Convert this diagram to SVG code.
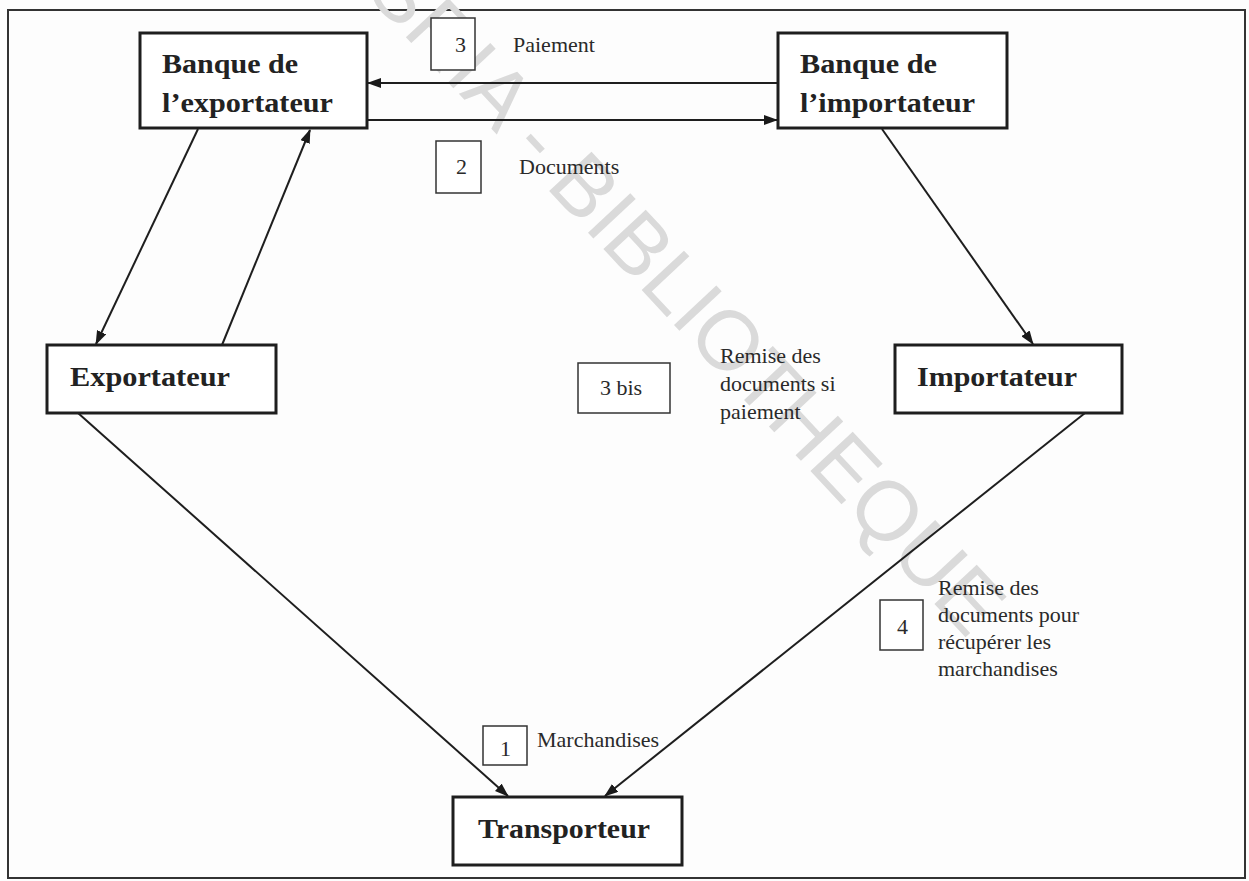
<svg xmlns="http://www.w3.org/2000/svg" width="1249" height="881" viewBox="0 0 1249 881">
<defs>
<marker id="ah" markerWidth="14" markerHeight="10" refX="13" refY="5" orient="auto" markerUnits="userSpaceOnUse"><path d="M0,0 L14,5 L0,10 z" fill="#1a1a1a"/></marker>
<style>
.node{fill:#fff;stroke:#1e1e1e;stroke-width:3}
.lbl{fill:#fff;stroke:#333;stroke-width:1.5}
.nt{font-family:"Liberation Serif","Times New Roman",serif;font-weight:bold;font-size:28px;fill:#222}
.t{font-family:"Liberation Serif","Times New Roman",serif;font-size:22px;fill:#2a2a2a}
.c{stroke:#1e1e1e;stroke-width:2;fill:none;marker-end:url(#ah)}
.wm{font-family:"Liberation Sans",Arial,sans-serif;font-size:84px;fill:#dadada}
</style>
</defs>
<rect x="0" y="0" width="1249" height="881" fill="#fdfdfd"/>
<rect x="8" y="10" width="1237" height="868" fill="none" stroke="#333" stroke-width="2"/>
<g id="watermark">
<text class="wm" text-anchor="end" transform="translate(968,640) rotate(47)">CODESRIA - BIBLIOTHEQUE</text>
</g>
<g id="connectors">
<line class="c" x1="778" y1="83" x2="368" y2="83"/>
<line class="c" x1="367" y1="120" x2="777" y2="120"/>
<line class="c" x1="198" y1="129" x2="96" y2="344"/>
<line class="c" x1="222" y1="345" x2="310" y2="130"/>
<line class="c" x1="882" y1="129" x2="1033" y2="344"/>
<line class="c" x1="78" y1="413" x2="508" y2="796"/>
<line class="c" x1="1085" y1="413" x2="605" y2="796"/>
</g>
<g id="banque-exportateur">
<rect class="node" x="140" y="33" width="227" height="95"/>
<text class="nt" x="162" y="73" textLength="136" lengthAdjust="spacingAndGlyphs">Banque de</text>
<text class="nt" x="162" y="112" textLength="171" lengthAdjust="spacingAndGlyphs">l’exportateur</text>
</g>
<g id="banque-importateur">
<rect class="node" x="778" y="33" width="229" height="95"/>
<text class="nt" x="800" y="73" textLength="137" lengthAdjust="spacingAndGlyphs">Banque de</text>
<text class="nt" x="800" y="112" textLength="175" lengthAdjust="spacingAndGlyphs">l’importateur</text>
</g>
<g id="exportateur">
<rect class="node" x="47" y="345" width="229" height="68"/>
<text class="nt" x="70" y="386" textLength="160" lengthAdjust="spacingAndGlyphs">Exportateur</text>
</g>
<g id="importateur">
<rect class="node" x="895" y="345" width="227" height="68"/>
<text class="nt" x="917" y="386" textLength="160" lengthAdjust="spacingAndGlyphs">Importateur</text>
</g>
<g id="transporteur">
<rect class="node" x="453" y="797" width="229" height="68"/>
<text class="nt" x="478" y="838" textLength="172" lengthAdjust="spacingAndGlyphs">Transporteur</text>
</g>
<g id="label-3">
<rect class="lbl" x="431" y="18" width="44" height="52"/>
<text class="t" x="455" y="52">3</text>
<text class="t" x="513" y="52">Paiement</text>
</g>
<g id="label-2">
<rect class="lbl" x="436" y="141" width="45" height="52"/>
<text class="t" x="456" y="174">2</text>
<text class="t" x="519" y="174">Documents</text>
</g>
<g id="label-3bis">
<rect class="lbl" x="578" y="363" width="92" height="50"/>
<text class="t" x="600" y="395">3 bis</text>
<text class="t" x="720" y="363">Remise des</text>
<text class="t" x="720" y="391">documents si</text>
<text class="t" x="720" y="419">paiement</text>
</g>
<g id="label-4">
<rect class="lbl" x="880" y="600" width="43" height="50"/>
<text class="t" x="897" y="634">4</text>
<text class="t" x="938" y="595">Remise des</text>
<text class="t" x="938" y="622">documents pour</text>
<text class="t" x="938" y="649">récupérer les</text>
<text class="t" x="938" y="676">marchandises</text>
</g>
<g id="label-1">
<rect class="lbl" x="483" y="726" width="44" height="39"/>
<text class="t" x="500" y="756">1</text>
<text class="t" x="537" y="747">Marchandises</text>
</g>
</svg>
